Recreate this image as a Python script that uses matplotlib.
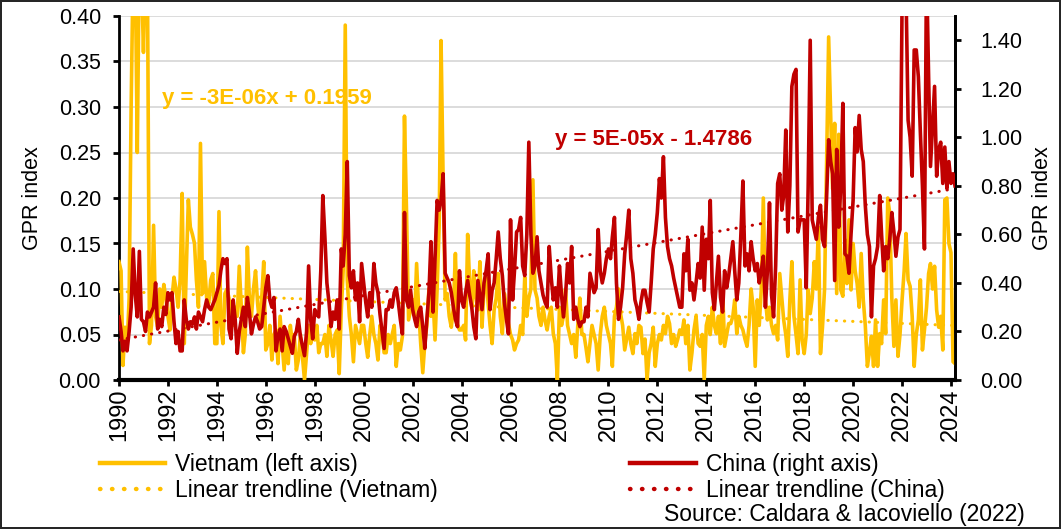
import numpy as np
import matplotlib
matplotlib.use("Agg")
import matplotlib.pyplot as plt
import matplotlib.dates as mdates
from matplotlib.font_manager import FontProperties

# ---------------------------------------------------------------------------
# Monthly geopolitical risk index, Jan 1990 - Mar 2024 (one row per year)
# ---------------------------------------------------------------------------
vietnam_gpr = [
    0.13, 0.12, 0.016, 0.058, 0.035, 0.09, 0.30, 0.46, 0.45, 0.25, 0.47, 0.45,      # 1990
    0.36, 0.46, 0.45, 0.04, 0.06, 0.17, 0.07, 0.058, 0.10, 0.08, 0.105, 0.091,      # 1991
    0.07, 0.055, 0.09, 0.113, 0.10, 0.08, 0.11, 0.205, 0.04, 0.12, 0.198, 0.168,    # 1992
    0.16, 0.15, 0.11, 0.08, 0.26, 0.095, 0.13, 0.09, 0.084, 0.11, 0.117, 0.04,      # 1993
    0.04, 0.185, 0.06, 0.04, 0.095, 0.10, 0.09, 0.07, 0.06, 0.08, 0.07, 0.125,      # 1994
    0.08, 0.03, 0.05, 0.146, 0.09, 0.07, 0.10, 0.12, 0.084, 0.06, 0.09, 0.13,       # 1995
    0.033, 0.04, 0.06, 0.022, 0.05, 0.055, 0.018, 0.07, 0.04, 0.011, 0.05, 0.018,  # 1996
    0.06, 0.04, 0.05, 0.011, 0.022, 0.05, 0.026, 0.0, 0.029, 0.06, 0.04, 0.05,      # 1997
    0.044, 0.06, 0.03, 0.04, 0.04, 0.05, 0.026, 0.06, 0.044, 0.026, 0.05, 0.055,    # 1998
    0.007, 0.077, 0.12, 0.39, 0.11, 0.07, 0.05, 0.02, 0.06, 0.05, 0.04, 0.06,       # 1999
    0.06, 0.04, 0.025, 0.05, 0.07, 0.05, 0.04, 0.022, 0.06, 0.05, 0.03, 0.03,       # 2000
    0.05, 0.04, 0.05, 0.06, 0.015, 0.04, 0.033, 0.048, 0.29, 0.187, 0.066, 0.077,   # 2001
    0.088, 0.07, 0.128, 0.077, 0.04, 0.008, 0.04, 0.06, 0.10, 0.07, 0.09, 0.044,    # 2002
    0.10, 0.17, 0.373, 0.22, 0.088, 0.095, 0.07, 0.058, 0.08, 0.139, 0.062, 0.055,  # 2003
    0.055, 0.06, 0.044, 0.16, 0.106, 0.08, 0.12, 0.09, 0.077, 0.13, 0.058, 0.10,    # 2004
    0.113, 0.084, 0.06, 0.04, 0.077, 0.09, 0.117, 0.07, 0.051, 0.095, 0.08, 0.062,  # 2005
    0.05, 0.044, 0.033, 0.04, 0.044, 0.06, 0.05, 0.113, 0.07, 0.09, 0.10, 0.22,     # 2006
    0.099, 0.09, 0.07, 0.06, 0.08, 0.065, 0.055, 0.07, 0.08, 0.051, 0.04, 0.0,      # 2007
    0.08, 0.06, 0.07, 0.10, 0.06, 0.05, 0.04, 0.05, 0.025, 0.06, 0.09, 0.05,        # 2008
    0.05, 0.035, 0.02, 0.04, 0.06, 0.05, 0.04, 0.011, 0.05, 0.07, 0.08, 0.06,       # 2009
    0.05, 0.04, 0.015, 0.07, 0.08, 0.10, 0.073, 0.06, 0.033, 0.045, 0.058, 0.04,    # 2010
    0.029, 0.051, 0.04, 0.06, 0.058, 0.029, 0.045, 0.0, 0.03, 0.04, 0.058, 0.015,   # 2011
    0.04, 0.05, 0.044, 0.06, 0.051, 0.07, 0.062, 0.04, 0.05, 0.037, 0.045, 0.055,   # 2012
    0.05, 0.066, 0.04, 0.06, 0.011, 0.03, 0.055, 0.07, 0.04, 0.037, 0.05, 0.0,      # 2013
    0.06, 0.07, 0.05, 0.08, 0.06, 0.051, 0.07, 0.04, 0.10, 0.037, 0.05, 0.062,      # 2014
    0.062, 0.07, 0.088, 0.051, 0.07, 0.06, 0.055, 0.045, 0.037, 0.06, 0.10, 0.08,   # 2015
    0.015, 0.088, 0.06, 0.10, 0.20, 0.088, 0.066, 0.08, 0.06, 0.051, 0.06, 0.044,   # 2016
    0.117, 0.09, 0.066, 0.05, 0.026, 0.088, 0.13, 0.07, 0.05, 0.029, 0.11, 0.044,   # 2017
    0.029, 0.05, 0.099, 0.073, 0.09, 0.13, 0.10, 0.168, 0.029, 0.058, 0.10, 0.234,  # 2018
    0.377, 0.29, 0.21, 0.282, 0.095, 0.27, 0.099, 0.092, 0.154, 0.106, 0.176, 0.099,  # 2019
    0.15, 0.12, 0.106, 0.08, 0.139, 0.088, 0.06, 0.015, 0.03, 0.048, 0.015, 0.066,  # 2020
    0.015, 0.051, 0.04, 0.088, 0.051, 0.20, 0.183, 0.09, 0.037, 0.088, 0.026, 0.05,  # 2021
    0.088, 0.12, 0.161, 0.11, 0.103, 0.07, 0.015, 0.05, 0.066, 0.11, 0.033, 0.055,  # 2022
    0.08, 0.117, 0.128, 0.10, 0.125, 0.077, 0.058, 0.07, 0.033, 0.198, 0.20, 0.15,  # 2023
    0.14, 0.02, 0.018,                                                             # 2024
]

china_gpr = [
    0.26, 0.20, 0.12, 0.16, 0.12, 0.20, 0.30, 0.54, 0.35, 0.26, 0.53, 0.25,   # 1990
    0.24, 0.20, 0.28, 0.26, 0.28, 0.30, 0.40, 0.21, 0.25, 0.22, 0.30, 0.27,   # 1991
    0.36, 0.33, 0.36, 0.24, 0.15, 0.20, 0.12, 0.12, 0.33, 0.25, 0.21, 0.24,   # 1992
    0.23, 0.26, 0.21, 0.28, 0.26, 0.24, 0.29, 0.33, 0.30, 0.29, 0.31, 0.33,   # 1993
    0.36, 0.39, 0.45, 0.50, 0.48, 0.50, 0.21, 0.17, 0.33, 0.25, 0.11, 0.20,   # 1994
    0.25, 0.30, 0.22, 0.34, 0.28, 0.19, 0.23, 0.26, 0.24, 0.21, 0.22, 0.30,   # 1995
    0.38, 0.43, 0.33, 0.30, 0.34, 0.12, 0.18, 0.21, 0.12, 0.22, 0.20, 0.17,   # 1996
    0.14, 0.11, 0.18, 0.20, 0.25, 0.18, 0.14, 0.10, 0.20, 0.47, 0.25, 0.17,   # 1997
    0.29, 0.27, 0.26, 0.45, 0.76, 0.59, 0.40, 0.32, 0.22, 0.28, 0.25, 0.33,   # 1998
    0.21, 0.54, 0.47, 0.60, 0.90, 0.43, 0.38, 0.45, 0.33, 0.40, 0.24, 0.48,   # 1999
    0.40, 0.32, 0.26, 0.36, 0.30, 0.48, 0.40, 0.36, 0.27, 0.20, 0.13, 0.29,   # 2000
    0.29, 0.33, 0.30, 0.36, 0.38, 0.32, 0.25, 0.19, 0.69, 0.33, 0.30, 0.37,   # 2001
    0.29, 0.25, 0.22, 0.28, 0.30, 0.22, 0.13, 0.25, 0.36, 0.57, 0.28, 0.50,   # 2002
    0.74, 0.70, 0.74, 0.85, 0.44, 0.42, 0.40, 0.36, 0.30, 0.25, 0.22, 0.45,   # 2003
    0.33, 0.30, 0.36, 0.41, 0.35, 0.30, 0.22, 0.17, 0.41, 0.35, 0.29, 0.40,   # 2004
    0.45, 0.52, 0.29, 0.37, 0.40, 0.50, 0.61, 0.50, 0.43, 0.32, 0.25, 0.19,   # 2005
    0.66, 0.33, 0.45, 0.61, 0.62, 0.67, 0.47, 0.43, 0.60, 0.98, 0.60, 0.44,   # 2006
    0.47, 0.59, 0.45, 0.40, 0.35, 0.32, 0.30, 0.55, 0.42, 0.33, 0.38, 0.30,   # 2007
    0.47, 0.35, 0.26, 0.35, 0.48, 0.40, 0.55, 0.25, 0.30, 0.25, 0.22, 0.24,   # 2008
    0.24, 0.30, 0.26, 0.44, 0.40, 0.36, 0.38, 0.62, 0.45, 0.40, 0.44, 0.50,   # 2009
    0.54, 0.50, 0.59, 0.67, 0.40, 0.25, 0.30, 0.38, 0.52, 0.60, 0.70, 0.50,   # 2010
    0.44, 0.33, 0.30, 0.25, 0.32, 0.37, 0.37, 0.32, 0.28, 0.40, 0.54, 0.60,   # 2011
    0.69, 0.83, 0.75, 0.92, 0.67, 0.55, 0.50, 0.47, 0.42, 0.38, 0.34, 0.30,   # 2012
    0.30, 0.52, 0.45, 0.58, 0.37, 0.40, 0.33, 0.40, 0.48, 0.42, 0.63, 0.37,   # 2013
    0.58, 0.50, 0.74, 0.36, 0.29, 0.40, 0.51, 0.34, 0.28, 0.45, 0.38, 0.43,   # 2014
    0.50, 0.57, 0.45, 0.33, 0.40, 0.60, 0.82, 0.47, 0.52, 0.45, 0.57, 0.50,   # 2015
    0.45, 0.48, 0.40, 0.45, 0.51, 0.30, 0.45, 0.73, 0.35, 0.26, 0.47, 0.81,   # 2016
    0.85, 0.70, 0.76, 1.03, 0.61, 0.80, 1.21, 1.26, 1.28, 0.61, 0.66, 0.66,   # 2017
    0.66, 0.38, 0.79, 1.40, 0.66, 0.62, 0.58, 0.67, 0.72, 0.58, 0.55, 0.75,   # 2018
    0.99, 0.90, 0.85, 0.41, 0.95, 0.63, 0.80, 1.14, 0.52, 0.51, 0.44, 0.60,   # 2019
    0.74, 1.04, 0.94, 1.09, 0.95, 0.90, 0.72, 0.60, 0.55, 0.26, 0.47, 0.50,   # 2020
    0.55, 0.76, 0.60, 0.45, 0.55, 0.50, 0.58, 0.69, 0.61, 0.51, 0.59, 0.62,   # 2021
    1.55, 1.75, 1.60, 1.07, 1.00, 0.84, 1.36, 1.36, 1.25, 1.02, 0.80, 0.54,   # 2022
    1.70, 1.25, 0.88, 1.05, 1.21, 0.84, 0.95, 0.98, 0.81, 0.96, 0.79, 0.90,   # 2023
    0.81, 0.85, 0.80,                                                       # 2024
]

months = np.arange("1990-01", "2024-04", dtype="datetime64[M]").astype("datetime64[D]")

# Excel linear trendlines (x = Excel date serial)
vn_slope, vn_icept = -3e-06, 0.1959
cn_slope, cn_icept = 5e-05, -1.4786
EXCEL_EPOCH_OFFSET = 25569  # days between 1899-12-30 and 1970-01-01

VN_COL = "#FFC000"
CN_COL = "#C00000"
GRID_COL = "#D9D9D9"

LEGEND_FONT = FontProperties(family="Liberation Sans", size=16.5)

plt.rcParams.update({
    "font.family": "Liberation Sans",
    "font.size": 15.5,
    "axes.linewidth": 2.0,
    "xtick.major.width": 2.0,
    "ytick.major.width": 2.0,
})

fig = plt.figure(figsize=(10.61, 5.29), dpi=100)
fig.patch.set_facecolor("white")
fig.patch.set_edgecolor("#262626")
fig.patch.set_linewidth(1.5)

ax = fig.add_axes([119 / 1061, 1 - 380 / 529, (955 - 119) / 1061, (380 - 16) / 529])
ax2 = ax.twinx()

serial = mdates.date2num(months) + EXCEL_EPOCH_OFFSET
vn = np.array(vietnam_gpr)
cn = np.array(china_gpr)

ln_vn, = ax.plot(months, vn, color=VN_COL, lw=2.6, solid_joinstyle="round", zorder=3)
ln_vn_tr, = ax.plot(months, vn_slope * serial + vn_icept, color=VN_COL, lw=2.2,
                    linestyle=(0, (0.1, 2.6)), dash_capstyle="round", zorder=4)
ln_cn, = ax2.plot(months, cn, color=CN_COL, lw=2.6, solid_joinstyle="round", zorder=3)
ln_cn_tr, = ax2.plot(months, cn_slope * serial + cn_icept, color=CN_COL, lw=2.2,
                     linestyle=(0, (0.1, 2.6)), dash_capstyle="round", zorder=4)

# left axis
ax.set_ylim(0, 0.40)
ax.set_yticks(np.arange(0, 0.401, 0.05))
ax.yaxis.set_major_formatter(matplotlib.ticker.FormatStrFormatter("%.2f"))
ax.grid(True, axis="y", color=GRID_COL, lw=1.3)
ax.set_axisbelow(True)
ax.set_ylabel("GPR index", labelpad=11)

# right axis
ax2.set_ylim(0, 1.5)
ax2.set_yticks(np.arange(0, 1.41, 0.2))
ax2.yaxis.set_major_formatter(matplotlib.ticker.FormatStrFormatter("%.2f"))
ax2.set_ylabel("GPR index", labelpad=7)

# x axis
ax.set_xlim(np.datetime64("1990-01-01"), np.datetime64("2024-03-01"))
ax.xaxis.set_major_locator(mdates.YearLocator(2))
ax.xaxis.set_major_formatter(mdates.DateFormatter("%Y"))
for lbl in ax.get_xticklabels():
    lbl.set_rotation(90)

ax.tick_params(axis="y", direction="out", length=4, pad=9)
ax.tick_params(axis="x", direction="out", length=4, pad=2, labelsize=17)
ax2.tick_params(axis="y", direction="out", length=4, pad=14)

for a in (ax, ax2):
    a.spines["top"].set_visible(False)
ax.spines["bottom"].set_linewidth(3)
ax2.spines["bottom"].set_visible(False)
ax2.spines["left"].set_visible(False)

# trendline equations
ax.text(np.datetime64("1991-10-01"), 0.309, "y = -3E-06x + 0.1959", color=VN_COL,
        fontsize=16, fontweight="bold", ha="left", va="center")
ax2.text(np.datetime64("2007-11-01"), 0.99, "y = 5E-05x - 1.4786", color=CN_COL,
         fontsize=16, fontweight="bold", ha="left", va="center")

leg = fig.legend([ln_vn, ln_vn_tr, ln_cn, ln_cn_tr],
                 ["Vietnam (left axis)", "Linear trendline (Vietnam)",
                  "China (right axis)", "Linear trendline (China)"],
                 ncol=2, loc="upper left", bbox_to_anchor=(100 / 1061, 1 - 453 / 529),
                 frameon=False, prop=LEGEND_FONT, handlelength=2.84, handletextpad=0.44,
                 columnspacing=8.4, labelspacing=0.15, borderpad=0, borderaxespad=0)
for h in leg.legend_handles:
    h.set_linewidth(3.2)

fig.text(1025 / 1061, 1 - 515 / 529, "Source: Caldara & Iacoviello (2022)",
         fontproperties=LEGEND_FONT, ha="right", va="center")

fig.savefig("out.png", dpi=100, facecolor=fig.get_facecolor(), edgecolor=fig.get_edgecolor())
